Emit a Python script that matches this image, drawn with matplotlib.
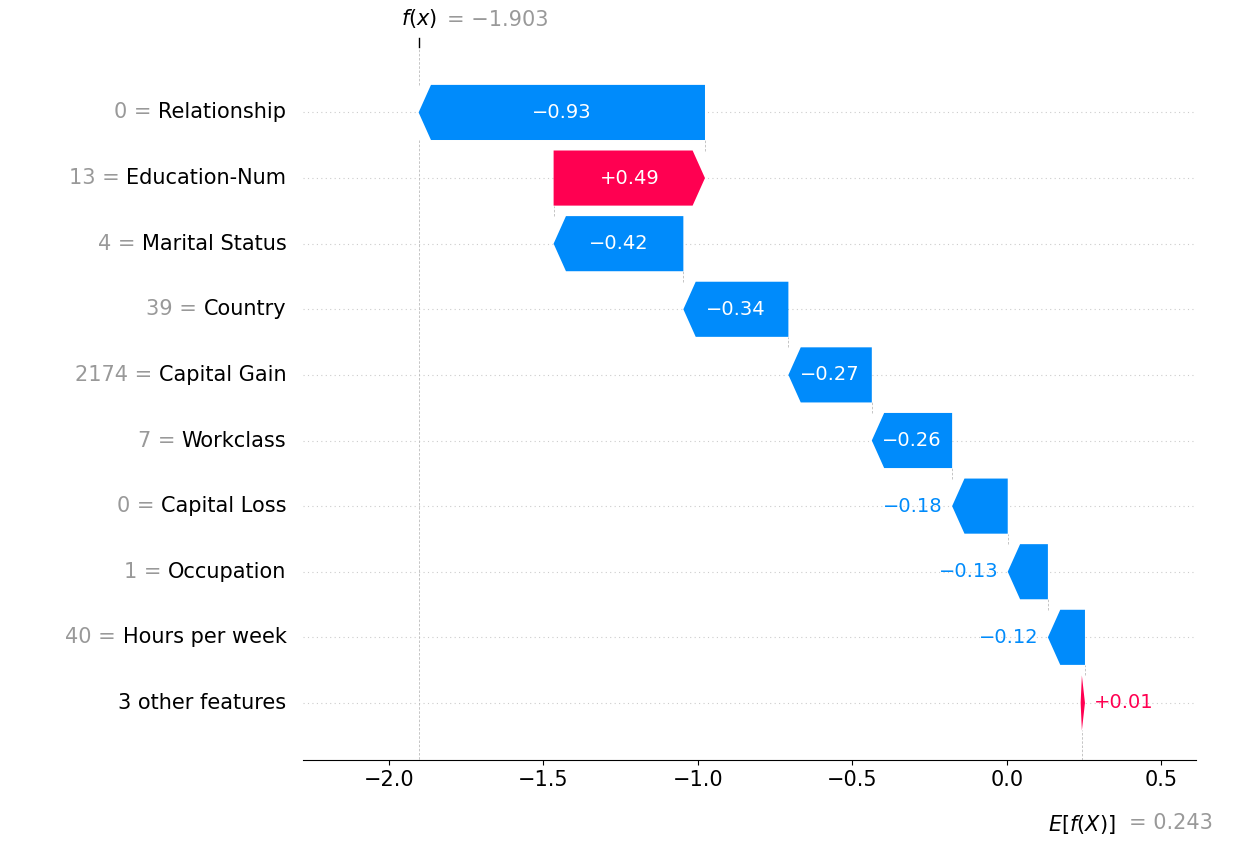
import matplotlib
matplotlib.use("Agg")
import matplotlib.pyplot as plt
import numpy as np

features = ["Relationship", "Education-Num", "Marital Status", "Country", "Capital Gain",
            "Workclass", "Capital Loss", "Occupation", "Hours per week", "3 other features"]
feat_vals = ["0", "13", "4", "39", "2174", "7", "0", "1", "40", ""]
shap_vals = [-0.927, 0.49, -0.42, -0.34, -0.27, -0.26, -0.18, -0.13, -0.12, 0.01]
base_value = 0.243
fx_value = -1.903

RED = "#ff0051"
BLUE = "#008bfb"
GREY = "#999999"

fig = plt.figure(figsize=(12.37, 8.44), dpi=100)
ax = fig.add_axes([0.245, 0.0995, 0.722, 0.845])
ax.set_xlim(-2.278, 0.613)
ax.set_ylim(-0.87, 10.0)

n = len(features)
ypos = [n - 1 - i for i in range(n)]  # top row first
# cumulative from bottom
starts = {}
cur = base_value
for i in range(n - 1, -1, -1):
    starts[i] = cur
    cur += shap_vals[i]

h = 0.84
head = 0.04
for i in range(n):
    y = ypos[i]
    s = starts[i]
    v = shap_vals[i]
    e = s + v
    col = RED if v > 0 else BLUE
    hl = min(head, abs(v))
    if v > 0:
        pts = [(s, y - h/2), (e - hl, y - h/2), (e, y), (e - hl, y + h/2), (s, y + h/2)]
    else:
        pts = [(s, y - h/2), (e + hl, y - h/2), (e, y), (e + hl, y + h/2), (s, y + h/2)]
    if abs(v) < 0.02:
        pts = [(s, y - h/2), (e, y), (s, y + h/2), (s - 0.004, y)]
    ax.add_patch(plt.Polygon(pts, closed=True, color=col, lw=0))
    ax.axhline(y, color="#cccccc", lw=0.8, ls=(0, (1, 3)), zorder=0)
    # connector lines
    if i > 0:
        ax.plot([e, e], [y + h/2, y + 1 - h/2], color="#bbbbbb", lw=0.6, ls=(0, (3, 2)))
    txt = f"{v:+.2f}".replace("-", "\u2212")
    if abs(v) > 0.2:
        ax.text((s + e) / 2, y, txt, color="white", ha="center", va="center", fontsize=14)
    elif v < 0:
        ax.text(e - 0.03, y, txt, color=col, ha="right", va="center", fontsize=14)
    else:
        ax.text(e + 0.03, y, txt, color=col, ha="left", va="center", fontsize=14)

# vertical lines for base and f(x)
ax.plot([base_value, base_value], [-0.87, ypos[-1] - h/2], color="#bbbbbb", lw=0.6, ls=(0, (3, 2)))
ax.plot([fx_value, fx_value], [ypos[0] + h/2, 10.0], color="#bbbbbb", lw=0.6, ls=(0, (3, 2)))
ax.plot([fx_value, fx_value], [ypos[0] - h/2, -0.87], color="#bbbbbb", lw=0.6, ls=(0, (3, 2)), zorder=0)

for sp in ["top", "right", "left"]:
    ax.spines[sp].set_visible(False)
ax.set_yticks([])
ax.tick_params(axis="x", labelsize=15)
ax.set_xticks([-2.0, -1.5, -1.0, -0.5, 0.0, 0.5])

# top tick
ax.plot([fx_value, fx_value], [1.0, 1.012], transform=ax.get_xaxis_transform(), color="black", lw=1, clip_on=False)
ax.annotate("$f(x)$", (fx_value, 1.0), xycoords=ax.get_xaxis_transform(), xytext=(0, 12),
            textcoords="offset points", ha="center", va="bottom", fontsize=15)
ax.annotate("= \u22121.903", (fx_value, 1.0), xycoords=ax.get_xaxis_transform(), xytext=(20, 12),
            textcoords="offset points", ha="left", va="bottom", fontsize=15, color=GREY)
ax.annotate("$E[f(X)]$", (base_value, 0), xycoords=ax.get_xaxis_transform(), xytext=(0, -38),
            textcoords="offset points", ha="center", va="top", fontsize=15)
ax.annotate("= 0.243", (base_value, 0), xycoords=ax.get_xaxis_transform(), xytext=(34, -38),
            textcoords="offset points", ha="left", va="top", fontsize=15, color=GREY)

# feature labels
fig.canvas.draw()
r = fig.canvas.get_renderer()
for i in range(n):
    y = ypos[i]
    t = ax.annotate(features[i], (0, y), xycoords=("axes fraction", "data"), xytext=(-12, 0),
                    textcoords="offset points", ha="right", va="center", fontsize=15)
    if feat_vals[i]:
        w = t.get_window_extent(r).width * 72 / fig.dpi
        ax.annotate(feat_vals[i] + " = ", (0, y), xycoords=("axes fraction", "data"),
                    xytext=(-12 - w, 0), textcoords="offset points", ha="right", va="center",
                    fontsize=15, color=GREY)

fig.savefig("out.png", dpi=100)
